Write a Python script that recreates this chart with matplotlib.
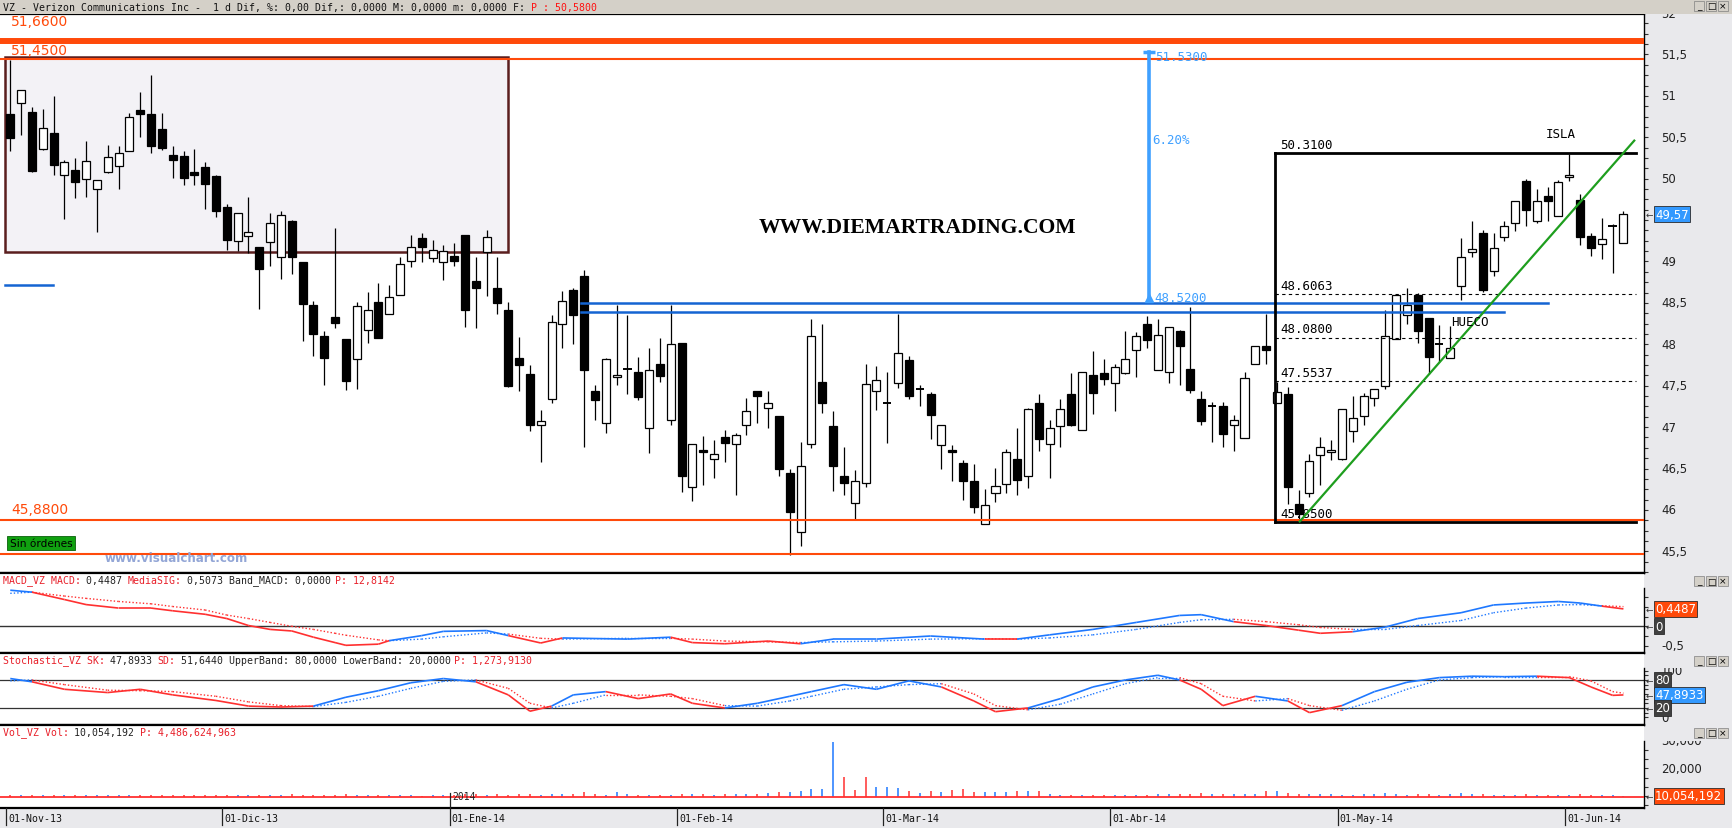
import matplotlib
matplotlib.use("Agg")
import matplotlib.pyplot as plt
from matplotlib.patches import Rectangle
from matplotlib.collections import LineCollection
from matplotlib.ticker import MultipleLocator
from matplotlib.transforms import blended_transform_factory, Bbox, TransformedBbox

W, H = 1732, 829
MONO = "DejaVu Sans Mono"
RED_TXT = "#E8202A"
ORANGE = "#FF4A0A"
BLUE = "#1464D2"
LBLUE = "#3FA0FF"
UPC = "#1E78FF"
DNC = "#FF3030"
BG = "#E9E9EC"

# ---------------- data ----------------
opens = [50.78, 50.91, 50.81, 50.36, 50.55, 50.05, 50.11, 50.00, 49.87, 50.08,
         50.15, 50.34, 50.83, 50.78, 50.60, 50.29, 50.28, 50.08, 50.14, 50.03,
         49.66, 49.25, 49.31, 49.17, 49.24, 49.06, 49.485, 48.99, 48.48, 48.10,
         48.33, 48.06, 47.82, 48.17, 48.51, 48.36, 48.60, 49.01, 49.28, 49.04,
         48.99, 49.07, 49.32, 48.76, 49.11, 48.68, 48.42, 47.83, 47.64, 47.03,
         47.34, 48.25, 48.66, 48.83, 47.43, 47.05, 47.60, 47.70, 47.66, 46.985,
         47.76, 47.09, 48.02, 46.28, 46.72, 46.61, 46.88, 46.80, 47.03, 47.43,
         47.23, 47.13, 46.45, 45.73, 46.80, 47.54, 47.01, 46.405, 46.08, 46.33,
         47.44, 47.29, 47.53, 47.81, 47.46, 47.40, 46.78, 46.72, 46.57, 46.345,
         45.83, 46.21, 46.31, 46.62, 46.41, 47.29, 46.80, 47.01, 47.40, 46.97,
         47.63, 47.65, 47.53, 47.65, 47.93, 48.25, 47.69, 47.66, 48.16, 47.70,
         47.335, 47.26, 47.25, 47.02, 46.865, 47.76, 47.975, 47.29, 47.40, 46.07,
         46.21, 46.66, 46.695, 46.62, 46.95, 47.13, 47.35, 47.50, 48.06, 48.35,
         48.59, 48.32, 48.00, 47.84, 48.70, 49.12, 49.35, 48.89, 49.29, 49.465,
         49.97, 49.485, 49.79, 49.545, 50.02, 49.74, 49.31, 49.21, 49.43, 49.22]
highs = [51.43, 51.07, 50.86, 50.84, 51.00, 50.22, 50.25, 50.45, 49.98, 50.41,
         50.40, 50.79, 51.05, 51.25, 50.79, 50.39, 50.33, 50.36, 50.20, 50.04,
         49.69, 49.59, 49.78, 49.17, 49.59, 49.61, 49.50, 48.99, 48.52, 48.16,
         49.40, 48.06, 48.51, 48.63, 48.74, 48.72, 49.06, 49.32, 49.34, 49.255,
         49.20, 49.22, 49.32, 49.06, 49.38, 49.06, 48.51, 48.09, 47.75, 47.21,
         48.35, 48.64, 48.68, 48.90, 47.51, 47.84, 48.48, 48.35, 47.85, 47.96,
         48.08, 48.48, 48.02, 46.80, 46.89, 46.85, 46.97, 46.93, 47.35, 47.43,
         47.44, 47.13, 46.49, 46.82, 48.31, 48.245, 47.19, 46.76, 46.48, 47.76,
         47.74, 47.66, 48.37, 47.855, 47.51, 47.42, 47.03, 46.78, 46.60, 46.55,
         46.25, 46.51, 46.74, 46.99, 47.23, 47.40, 47.08, 47.34, 47.65, 47.67,
         47.915, 47.82, 47.76, 48.16, 48.145, 48.34, 48.30, 48.205, 48.17, 48.45,
         47.43, 47.30, 47.30, 47.15, 47.67, 47.975, 48.37, 47.54, 47.49, 46.24,
         46.67, 46.88, 46.84, 47.215, 47.38, 47.41, 47.46, 48.41, 48.60, 48.68,
         48.615, 48.32, 48.23, 48.22, 49.28, 49.49, 49.38, 49.34, 49.485, 49.73,
         50.00, 49.88, 49.895, 49.98, 50.30, 49.81, 49.35, 49.53, 49.45, 49.61]
lows = [50.34, 50.53, 50.08, 50.35, 50.04, 49.51, 49.77, 49.78, 49.36, 50.07,
        49.87, 50.34, 50.50, 50.31, 50.35, 50.01, 49.92, 49.92, 49.64, 49.54,
        49.14, 49.13, 49.10, 48.43, 48.95, 48.79, 48.85, 48.04, 47.86, 47.51,
        48.20, 47.45, 47.46, 48.02, 48.08, 48.36, 48.60, 48.93, 48.99, 48.99,
        48.78, 48.95, 48.21, 48.20, 48.58, 48.36, 47.49, 47.43, 46.95, 46.58,
        47.29, 47.95, 48.00, 46.76, 47.09, 46.93, 47.51, 47.40, 47.33, 46.69,
        47.55, 47.02, 46.22, 46.11, 46.30, 46.38, 46.58, 46.18, 46.91, 47.05,
        46.99, 46.41, 45.45, 45.56, 46.75, 47.17, 46.23, 46.18, 45.89, 46.28,
        47.21, 46.81, 47.47, 47.34, 47.25, 46.86, 46.50, 46.35, 46.12, 45.96,
        45.83, 46.10, 46.20, 46.18, 46.26, 46.71, 46.38, 46.76, 47.01, 46.97,
        47.155, 47.505, 47.20, 47.64, 47.61, 47.96, 47.69, 47.53, 47.51, 47.415,
        47.02, 46.82, 46.76, 46.71, 46.865, 47.76, 47.76, 47.29, 46.07, 45.85,
        46.15, 46.305, 46.60, 46.60, 46.82, 47.03, 47.26, 47.46, 48.06, 48.25,
        48.02, 47.64, 47.79, 47.84, 48.54, 49.06, 48.63, 48.82, 49.25, 49.37,
        49.43, 49.47, 49.49, 49.545, 49.97, 49.195, 49.07, 49.03, 48.86, 49.22]
closes = [50.49, 51.07, 50.09, 50.61, 50.17, 50.20, 49.96, 50.21, 49.98, 50.26,
          50.31, 50.75, 50.785, 50.40, 50.37, 50.22, 50.01, 50.05, 49.93, 49.61,
          49.26, 49.59, 49.36, 48.91, 49.47, 49.56, 49.05, 48.49, 48.13, 47.84,
          48.26, 47.56, 48.46, 48.42, 48.08, 48.57, 48.97, 49.17, 49.17, 49.14,
          49.13, 49.00, 48.42, 48.68, 49.29, 48.50, 47.50, 47.75, 47.03, 47.07,
          48.27, 48.52, 48.35, 47.69, 47.33, 47.82, 47.625, 47.70, 47.36, 47.69,
          47.62, 48.00, 46.41, 46.79, 46.70, 46.67, 46.81, 46.90, 47.20, 47.38,
          47.29, 46.49, 45.98, 46.53, 48.10, 47.295, 46.53, 46.32, 46.345, 47.52,
          47.565, 47.29, 47.89, 47.38, 47.46, 47.15, 47.03, 46.70, 46.345, 46.03,
          46.06, 46.285, 46.70, 46.365, 47.215, 46.86, 46.985, 47.215, 47.02, 47.67,
          47.41, 47.58, 47.72, 47.82, 48.10, 48.05, 48.11, 48.205, 47.98, 47.45,
          47.07, 47.26, 46.92, 47.09, 47.59, 47.975, 47.93, 47.42, 46.28, 45.95,
          46.59, 46.755, 46.72, 47.215, 47.105, 47.38, 47.46, 48.10, 48.60, 48.47,
          48.165, 47.85, 48.00, 47.95, 49.06, 49.15, 48.65, 49.16, 49.43, 49.73,
          49.62, 49.73, 49.73, 49.96, 50.04, 49.29, 49.16, 49.27, 49.43, 49.57]

# volume in thousands of shares
volume = [10400, 10300, 10500, 10350, 10450, 10300, 10250, 10400, 10500, 10300,
          10350, 10400, 10300, 10250, 10350, 10400, 10300, 10250, 10350, 10200,
          10300, 10400, 10350, 10450, 10500, 10400, 10600, 10500, 10450, 10400,
          10500, 10650, 10400, 10300, 10200, 10250, 10300, 10200, 10150, 10300,
          10350, 10500, 10700, 10600, 10400, 10650, 10500, 10800, 10600, 10500,
          10700, 10600, 10900, 11400, 10600, 10500, 11500, 10700, 10500, 10400,
          10300, 10350, 10800, 10600, 10700, 10500, 10600, 10700, 10900, 10800,
          11200, 11500, 11500, 11900, 12400, 12700, 29600, 16960, 12200, 16960,
          13100, 13100, 12750, 11900, 11180, 11900, 11500, 12150, 12390, 11420,
          11420, 11420, 11540, 11660, 11900, 11660, 10700, 10500, 10300, 10400,
          10500, 10300, 10200, 10400, 10300, 10500, 10900, 10800, 10700, 10900,
          11100, 10800, 10700, 10900, 10800, 10700, 11900, 11900, 11000, 10900,
          10800, 10700, 10600, 10500, 10400, 10600, 10800, 11180, 10600, 10500,
          10600, 10700, 10500, 10600, 11180, 10700, 10600, 10500, 10400, 10500,
          10600, 10400, 10300, 10500, 10400, 10700, 10300, 10400, 10200, 10054]
# bar colours seen around the February spike (True = blue)
vol_blue_seen = {72: True, 73: True, 74: True, 75: True, 76: True,
                 77: False, 78: False, 79: False}

macd_x = [0, 2, 5, 7, 10, 13, 15, 18, 20, 22, 24, 26, 28, 30, 31, 34, 35, 38, 40,
          44, 46, 49, 51, 57, 61, 63, 66, 70, 73, 76, 80, 85, 90, 93, 96, 100, 104,
          108, 110, 113, 116, 119, 121, 124, 127, 130, 134, 137, 140, 143, 145, 147, 149]
macd_v = [0.93, 0.88, 0.69, 0.56, 0.47, 0.47, 0.40, 0.31, 0.20, 0.02, -0.08, -0.12,
          -0.28, -0.42, -0.49, -0.46, -0.37, -0.24, -0.13, -0.11, -0.24, -0.43, -0.30,
          -0.33, -0.28, -0.42, -0.45, -0.38, -0.45, -0.33, -0.33, -0.25, -0.33, -0.33,
          -0.22, -0.08, 0.10, 0.28, 0.30, 0.12, 0.02, -0.10, -0.18, -0.14, -0.02, 0.20,
          0.35, 0.55, 0.60, 0.64, 0.60, 0.52, 0.4487]
sig_v = [0.85, 0.88, 0.78, 0.72, 0.64, 0.58, 0.51, 0.42, 0.29, 0.20, 0.10, 0.00,
         -0.08, -0.18, -0.23, -0.35, -0.37, -0.33, -0.27, -0.17, -0.20, -0.31, -0.33,
         -0.31, -0.31, -0.33, -0.38, -0.40, -0.42, -0.40, -0.38, -0.33, -0.32, -0.33,
         -0.30, -0.22, -0.08, 0.10, 0.17, 0.18, 0.12, 0.04, -0.03, -0.08, -0.08, 0.02,
         0.15, 0.35, 0.47, 0.55, 0.56, 0.53, 0.5073]

stoch_x = [0, 2, 5, 9, 12, 15, 19, 22, 25, 28, 31, 34, 37, 40, 43, 46, 48, 50, 52,
           55, 58, 61, 63, 66, 69, 72, 74, 77, 80, 83, 86, 89, 91, 94, 97, 100, 103,
           106, 108, 110, 112, 115, 118, 120, 123, 126, 129, 132, 135, 138, 141, 144,
           146, 148, 149]
sk_v = [83, 76, 60, 53, 60, 48, 36, 24, 22, 24, 43, 57, 74, 83, 76, 48, 13, 24, 48,
        55, 40, 50, 30, 20, 30, 45, 55, 70, 60, 78, 65, 35, 12, 20, 40, 65, 80, 90,
        80, 60, 25, 45, 35, 10, 25, 55, 75, 85, 88, 87, 88, 85, 65, 47, 47.89]
sd_v = [78, 80, 70, 58, 57, 55, 45, 33, 25, 23, 32, 45, 62, 77, 80, 62, 30, 20, 30,
        48, 48, 45, 40, 25, 24, 35, 45, 60, 65, 70, 72, 50, 25, 16, 28, 50, 72, 85,
        85, 72, 45, 35, 40, 25, 15, 35, 60, 80, 85, 87, 87, 87, 78, 55, 51.64]

month_idx = [0, 20, 41, 62, 81, 102, 123, 144]
month_lbl = ["01-Nov-13", "01-Dic-13", "01-Ene-14", "01-Feb-14",
             "01-Mar-14", "01-Abr-14", "01-May-14", "01-Jun-14"]

# drawn levels
top_level, top_level2 = 51.66, 51.45
low_level, low_level2 = 45.88, 45.47
fib_hi, fib_lo = 50.31, 45.85
fib_levels = [48.6063, 48.08, 47.5537]
blue_lv = [48.495, 48.385]
arrow_lo, arrow_hi = 48.52, 51.53


def rect(x0, y0, x1, y1):
    return [x0 / W, 1 - y1 / H, (x1 - x0) / W, (y1 - y0) / H]


def xpx(i):
    return 10.3 + 10.826 * i


fig = plt.figure(figsize=(W / 100, H / 100), dpi=100, facecolor=BG)
ax = fig.add_axes(rect(0, 15, 1644, 574))
axm = fig.add_axes(rect(0, 574, 1644, 654))
axs = fig.add_axes(rect(0, 654, 1644, 726))
axv = fig.add_axes(rect(0, 726, 1644, 809))
# pixel rows where each panel's right scale starts / ends
rows = {ax: (15, 574), axm: (589, 654), axs: (669, 726), axv: (742, 809)}

for a in (ax, axm, axs, axv):
    a.set_xlim(-0.95, 150.9)
    a.set_facecolor("white")
    a.yaxis.tick_right()
    a.tick_params(axis="y", which="both", direction="out", length=3.2, width=0.8,
                  colors="#333333", labelright=False)
    a.tick_params(axis="x", bottom=False, labelbottom=False)
    a.spines["left"].set_visible(False)
    a.spines["right"].set_linewidth(1.0)
    a.spines["top"].set_linewidth(1.6)
    a.spines["bottom"].set_linewidth(1.6)

ax.set_ylim(45.238, 51.989)
axm.set_ylim(-0.688, 1.374)
axs.set_ylim(-16.5, 137.7)
axv.set_ylim(5668, 35630)
ax.yaxis.set_major_locator(MultipleLocator(0.5))
ax.yaxis.set_minor_locator(MultipleLocator(0.125))
axm.set_yticks([-0.5, 0, 0.5])
axm.set_yticks([-0.25, 0.25, 0.75], minor=True)
axm.spines["right"].set_bounds(-0.688, 0.987)
axs.set_yticks([0, 20, 40, 60, 80, 100])
axs.set_yticks([10, 30, 50, 70, 90], minor=True)
axs.spines["right"].set_bounds(-16.5, 105.6)
axv.set_yticks([10000, 20000])
axv.set_yticks([6667, 13333, 16667, 23333, 26667], minor=True)
axv.spines["right"].set_bounds(5668, 29960)


def axis_label(a, y, txt, x=1661):
    y0, y1 = rows[a]
    t = a.text(x / 1644, y, txt, transform=blended_transform_factory(a.transAxes, a.transData),
               fontsize=8.5, color="#222222", va="center", ha="left", clip_on=True)
    t.set_clip_box(TransformedBbox(Bbox([[1644 / W, 1 - y1 / H], [1, 1 - y0 / H]]), fig.transFigure))


def value_box(a, y, txt, fc, x=1655):
    tr = blended_transform_factory(a.transAxes, a.transData)
    a.text(x / 1644, y, txt, transform=tr, fontsize=8.5, color="white", va="center", ha="left",
           bbox=dict(boxstyle="square,pad=0.12", fc=fc, ec="#2a2a2a", lw=0.6), clip_on=False, zorder=20)
    a.text(1646 / 1644, y, "\u2190", transform=tr, fontsize=6.5, color="#333333", va="center",
           ha="left", clip_on=False, zorder=20)


for v in [45.5 + 0.5 * k for k in range(14)]:
    if abs(v - 49.5) > 0.01:
        axis_label(ax, v, f"{v:g}".replace(".", ","))
value_box(ax, 49.57, "49,57", "#3399FF")

axis_label(axm, -0.5, "-0,5")
value_box(axm, 0.4487, "0,4487", "#FF4A0A")
value_box(axm, 0.0, "0", "#404040")

axis_label(axs, 100, "100")
axis_label(axs, 0, "0")
value_box(axs, 80, "80", "#404040")
value_box(axs, 47.8933, "47,8933", "#3399FF")
value_box(axs, 20, "20", "#404040")

axis_label(axv, 30000, "30,000")
axis_label(axv, 20000, "20,000")
value_box(axv, 10054, "10,054,192", "#FF4A0A")

# ---------------- main panel ----------------
ax.add_patch(Rectangle((-0.49, 49.11), 46.49, 51.475 - 49.11, fc="#F3F2F6", ec="#5A1E1E",
                       lw=1.8, zorder=1))

n = len(closes)
xs = list(range(n))
ax.vlines(xs, lows, highs, color="black", lw=0.9, zorder=3)
for i in xs:
    o, c = opens[i], closes[i]
    if abs(c - o) < 0.015:
        ax.hlines(o, i - 0.38, i + 0.38, color="black", lw=1.4, zorder=4)
    else:
        ax.add_patch(Rectangle((i - 0.37, min(o, c)), 0.74, abs(c - o),
                               fc="white" if c > o else "black", ec="black", lw=0.9, zorder=4))

ax.axhline(top_level, color=ORANGE, lw=4.3, zorder=5)
ax.axhline(top_level2, color=ORANGE, lw=1.5, zorder=5)
ax.axhline(low_level, color=ORANGE, lw=1.5, zorder=5)
ax.axhline(low_level2, color=ORANGE, lw=1.5, zorder=5)
for y, t in [(51.90, "51,6600"), (51.555, "51,4500"), (46.01, "45,8800")]:
    ax.text(0.07, y, t, color=ORANGE, fontsize=10, va="center", ha="left", zorder=6)

ax.plot([-0.45, 3.9], [48.72, 48.72], color=BLUE, lw=1.8, zorder=5)
ax.plot([52.7, 142.0], [blue_lv[0]] * 2, color=BLUE, lw=1.8, zorder=5)
ax.plot([52.7, 138.0], [blue_lv[1]] * 2, color=BLUE, lw=1.8, zorder=5)

# fibonacci bracket
fx0, fx1 = 116.8, 150.2
ax.plot([fx0, fx0], [fib_lo, fib_hi], color="black", lw=2, zorder=5)
ax.plot([fx0, fx1], [fib_hi, fib_hi], color="black", lw=2, zorder=5)
ax.plot([fx0, fx1], [fib_lo, fib_lo], color="black", lw=2, zorder=5)
for lv in fib_levels:
    ax.plot([fx0, fx1], [lv, lv], color="black", lw=0.8, ls=(0, (3, 3)), zorder=5)
for lv in [fib_hi] + fib_levels + [fib_lo]:
    ax.text(fx0 + 0.5, lv + 0.03, f"{lv:.4f}", fontsize=9, family=MONO, color="black",
            va="bottom", ha="left", zorder=6)

ax.plot([119.1, 150.0], [45.86, 50.46], color="#1E9E1E", lw=1.6, zorder=6)
ax.text(143.2, 50.47, "ISLA", fontsize=9, family=MONO, ha="center", va="bottom", zorder=6)
ax.text(134.8, 48.27, "HUECO", fontsize=9, family=MONO, ha="center", va="center", zorder=6)

# percentage arrow
ax.plot([105.2, 105.2], [arrow_lo, arrow_hi], color=LBLUE, lw=2.6, zorder=6)
ax.plot([105.2], [arrow_hi], marker="_", ms=8, mew=2.5, color=LBLUE, zorder=6)
ax.plot([105.2], [arrow_lo + 0.04], marker="^", ms=6, color=LBLUE, zorder=6)
ax.text(105.7, 51.48, f"{arrow_hi:.4f}", fontsize=9, family=MONO, color=LBLUE, va="center", zorder=6)
ax.text(105.7, 48.57, f"{arrow_lo:.4f}", fontsize=9, family=MONO, color=LBLUE, va="center", zorder=6)
ax.text(105.5, 50.47, "6.20%", fontsize=9, family=MONO, color=LBLUE, va="center", zorder=6)

ax.text(83.8, 49.42, "WWW.DIEMARTRADING.COM", family="Liberation Serif", fontweight="bold",
        fontsize=15.6, ha="center", va="center", zorder=6)
ax.text(-0.05, 45.6, "Sin órdenes", fontsize=7.6, va="center", ha="left", zorder=7,
        bbox=dict(boxstyle="square,pad=0.22", fc="#10A010", ec="#0A600A", lw=0.6))
ax.text(8.75, 45.42, "www.visualchart.com", fontsize=8.6, fontweight="bold", color="#93A6D6",
        va="center", ha="left", zorder=7)

# ---------------- indicator panels ----------------


def two_lines(a, x, solid, dotted):
    segs_s, segs_d, cols = [], [], []
    for k in range(len(x) - 1):
        segs_s.append([(x[k], solid[k]), (x[k + 1], solid[k + 1])])
        segs_d.append([(x[k], dotted[k]), (x[k + 1], dotted[k + 1])])
        up = (solid[k] + solid[k + 1]) >= (dotted[k] + dotted[k + 1])
        cols.append(UPC if up else DNC)
    a.add_collection(LineCollection(segs_d, colors=cols, lw=1.0, linestyles=(0, (1, 1.5)), zorder=3))
    a.add_collection(LineCollection(segs_s, colors=cols, lw=1.2, zorder=4))


axm.axhline(0, color="#333333", lw=1.0, zorder=2)
two_lines(axm, macd_x, macd_v, sig_v)

axs.axhline(80, color="#333333", lw=0.9, zorder=2)
axs.axhline(20, color="#333333", lw=0.9, zorder=2)
two_lines(axs, stoch_x, sk_v, sd_v)

vbase = 9740
vcols = []
for i in xs:
    blue = vol_blue_seen.get(i, closes[i] >= opens[i])
    vcols.append(UPC if blue else DNC)
axv.vlines(xs, vbase, [max(v, vbase) for v in volume], colors=vcols, lw=1.1, zorder=3)
axv.axhline(vbase, color=DNC, lw=1.3, zorder=4)
axv.text(40.8, vbase + 250, "2014", fontsize=7, family=MONO, color="#222222", va="center",
         ha="left", zorder=5)
axv.plot([40.6, 40.6], [5668, vbase + 1500], color="#222222", lw=0.9, zorder=5)

# ---------------- headers and chrome ----------------
tb = fig.add_axes(rect(0, 0, W, 15))
tb.set_facecolor("#D4D0C8")
tb.set_xticks([])
tb.set_yticks([])
for s in tb.spines.values():
    s.set_visible(False)

HSIZE = 7.1
CH = HSIZE * 100 / 72 * 0.602


def header(x0, ypx, parts):
    x = x0
    for txt, col in parts:
        fig.text(x / W, 1 - ypx / H, txt, color=col, fontsize=HSIZE, family=MONO, va="center", ha="left")
        x += len(txt) * CH


header(3, 7.5, [("VZ - Verizon Communications Inc -  1 d Dif, %: 0,00 Dif,: 0,0000 M: 0,0000 "
                 "m: 0,0000 F:  ", "#111111"), ("P : 50,5800", "#FF1010")])
header(3, 581, [("MACD_VZ MACD:", RED_TXT), (" 0,4487 ", "#222222"), ("MediaSIG:", RED_TXT),
                (" 0,5073 Band_MACD: 0,0000 ", "#222222"), ("P: 12,8142", RED_TXT)])
header(3, 661, [("Stochastic_VZ SK:", RED_TXT), (" 47,8933 ", "#222222"), ("SD:", RED_TXT),
                (" 51,6440 UpperBand: 80,0000 LowerBand: 20,0000 ", "#222222"),
                ("P: 1,273,9130", RED_TXT)])
header(3, 733, [("Vol_VZ Vol:", RED_TXT), (" 10,054,192 ", "#222222"), ("P: 4,486,624,963", RED_TXT)])


def buttons(ytop):
    for k, g in enumerate(["_", "\u25a1", "\u00d7"]):
        x0 = 1694 + k * 12
        fig.patches.append(Rectangle((x0 / W, 1 - (ytop + 10) / H), 10 / W, 10 / H,
                                     transform=fig.transFigure, fc="#D4D0C8", ec="#808080", lw=0.5))
        fig.text((x0 + 5) / W, 1 - (ytop + 5) / H, g, fontsize=6.5, ha="center", va="center", color="black")


buttons(2)
buttons(577)
buttons(657)
buttons(729)

for i, lbl in zip(month_idx, month_lbl):
    x = xpx(i - 0.4)
    fig.add_artist(plt.Line2D([x / W, x / W], [1 - 809 / H, 1 - 826 / H], color="#222222", lw=0.9))
    fig.text((x + 2) / W, 1 - 819 / H, lbl, fontsize=7.1, family=MONO, color="#111111",
             va="center", ha="left")

fig.savefig("out.png", dpi=100, facecolor=BG)
